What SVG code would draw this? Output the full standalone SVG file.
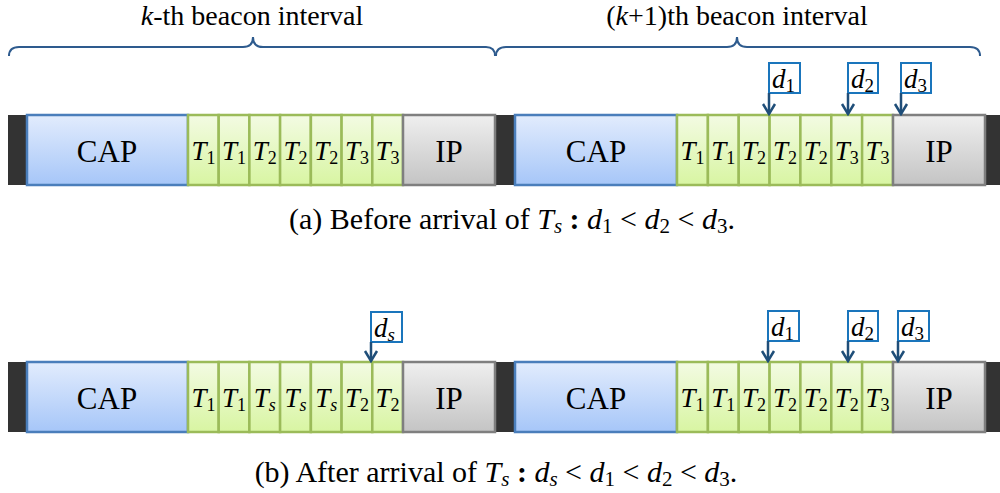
<svg xmlns="http://www.w3.org/2000/svg" width="1000" height="493" viewBox="0 0 1000 493" font-family="Liberation Serif">
  <defs>
    <linearGradient id="gBlue" x1="0" y1="0" x2="0" y2="1">
      <stop offset="0" stop-color="#e2ecfd"/>
      <stop offset="1" stop-color="#a6c6f8"/>
    </linearGradient>
    <linearGradient id="gGreen" x1="0" y1="0" x2="0" y2="1">
      <stop offset="0" stop-color="#f3fbe3"/>
      <stop offset="1" stop-color="#d8f5a2"/>
    </linearGradient>
    <linearGradient id="gGray" x1="0" y1="0" x2="0" y2="1">
      <stop offset="0" stop-color="#efefef"/>
      <stop offset="1" stop-color="#c4c4c4"/>
    </linearGradient>
    <marker id="head" viewBox="-12 -8 14 16" markerWidth="14" markerHeight="16" refX="0" refY="0" markerUnits="userSpaceOnUse" orient="auto">
      <path d="M-10,-6 L0,0 L-10,6" fill="none" stroke="#1f4e79" stroke-width="2.5"/>
    </marker>
  </defs>

  <!-- interval braces and titles -->
  <g id="brace-k">
    <path fill="none" stroke="#2e5b8e" stroke-width="2" d="M9,56 Q9,47 19,47 L243,47 Q253,47 253,37 Q253,47 263,47 L486,47 Q495,47 495,56"/>
    <text x="252" y="25" font-family="Liberation Serif" font-size="28" text-anchor="middle"><tspan font-style="italic">k</tspan>-th beacon interval</text>
  </g>
  <g id="brace-k1">
    <path fill="none" stroke="#2e5b8e" stroke-width="2" d="M496,56 Q496,47 506,47 L727,47 Q737,47 737,37 Q737,47 747,47 L970,47 Q980,47 980,56"/>
    <text x="737" y="25" font-family="Liberation Serif" font-size="28" text-anchor="middle">(<tspan font-style="italic">k</tspan>+1)th beacon interval</text>
  </g>

  <!-- (a) superframes before arrival -->
  <g id="row-a" font-family="Liberation Serif">
    <rect fill="#333333" x="8" y="115" width="992" height="70"/>
    <g id="a-cap1"><rect fill="url(#gBlue)" stroke="#4a7ebb" stroke-width="2.5" x="27" y="115" width="161" height="70"/><text font-family="Liberation Serif" font-size="31" text-anchor="middle" x="107" y="162">CAP</text></g>
    <g id="a-slots" fill="url(#gGreen)" stroke="#9bbb59" stroke-width="2.5">
      <g id="a-s1"><rect x="188" y="115" width="30.7" height="70"/><text fill="#000" stroke="none" font-family="Liberation Serif" font-size="27" text-anchor="middle" x="203.4" y="160"><tspan font-style="italic">T</tspan><tspan font-size="18" dy="4">1</tspan></text></g>
      <g id="a-s2"><rect x="218.7" y="115" width="30.7" height="70"/><text fill="#000" stroke="none" font-family="Liberation Serif" font-size="27" text-anchor="middle" x="234.1" y="160"><tspan font-style="italic">T</tspan><tspan font-size="18" dy="4">1</tspan></text></g>
      <g id="a-s3"><rect x="249.4" y="115" width="30.7" height="70"/><text fill="#000" stroke="none" font-family="Liberation Serif" font-size="27" text-anchor="middle" x="264.8" y="160"><tspan font-style="italic">T</tspan><tspan font-size="18" dy="4">2</tspan></text></g>
      <g id="a-s4"><rect x="280.1" y="115" width="30.7" height="70"/><text fill="#000" stroke="none" font-family="Liberation Serif" font-size="27" text-anchor="middle" x="295.5" y="160"><tspan font-style="italic">T</tspan><tspan font-size="18" dy="4">2</tspan></text></g>
      <g id="a-s5"><rect x="310.9" y="115" width="30.7" height="70"/><text fill="#000" stroke="none" font-family="Liberation Serif" font-size="27" text-anchor="middle" x="326.2" y="160"><tspan font-style="italic">T</tspan><tspan font-size="18" dy="4">2</tspan></text></g>
      <g id="a-s6"><rect x="341.6" y="115" width="30.7" height="70"/><text fill="#000" stroke="none" font-family="Liberation Serif" font-size="27" text-anchor="middle" x="356.9" y="160"><tspan font-style="italic">T</tspan><tspan font-size="18" dy="4">3</tspan></text></g>
      <g id="a-s7"><rect x="372.3" y="115" width="30.7" height="70"/><text fill="#000" stroke="none" font-family="Liberation Serif" font-size="27" text-anchor="middle" x="387.6" y="160"><tspan font-style="italic">T</tspan><tspan font-size="18" dy="4">3</tspan></text></g>
    </g>
    <g id="a-ip1"><rect fill="url(#gGray)" stroke="#7f7f7f" stroke-width="2.5" x="403" y="115" width="92" height="70"/><text font-family="Liberation Serif" font-size="31" text-anchor="middle" x="449" y="162">IP</text></g>

    <g id="a-cap2"><rect fill="url(#gBlue)" stroke="#4a7ebb" stroke-width="2.5" x="515" y="115" width="162" height="70"/><text font-family="Liberation Serif" font-size="31" text-anchor="middle" x="596" y="162">CAP</text></g>
    <g id="a-slots2" fill="url(#gGreen)" stroke="#9bbb59" stroke-width="2.5">
      <g id="a-s8"><rect x="677" y="115" width="30.9" height="70"/><text fill="#000" stroke="none" font-family="Liberation Serif" font-size="27" text-anchor="middle" x="692.4" y="160"><tspan font-style="italic">T</tspan><tspan font-size="18" dy="4">1</tspan></text></g>
      <g id="a-s9"><rect x="707.9" y="115" width="30.9" height="70"/><text fill="#000" stroke="none" font-family="Liberation Serif" font-size="27" text-anchor="middle" x="723.3" y="160"><tspan font-style="italic">T</tspan><tspan font-size="18" dy="4">1</tspan></text></g>
      <g id="a-s10"><rect x="738.7" y="115" width="30.9" height="70"/><text fill="#000" stroke="none" font-family="Liberation Serif" font-size="27" text-anchor="middle" x="754.1" y="160"><tspan font-style="italic">T</tspan><tspan font-size="18" dy="4">2</tspan></text></g>
      <g id="a-s11"><rect x="769.6" y="115" width="30.9" height="70"/><text fill="#000" stroke="none" font-family="Liberation Serif" font-size="27" text-anchor="middle" x="785" y="160"><tspan font-style="italic">T</tspan><tspan font-size="18" dy="4">2</tspan></text></g>
      <g id="a-s12"><rect x="800.4" y="115" width="30.9" height="70"/><text fill="#000" stroke="none" font-family="Liberation Serif" font-size="27" text-anchor="middle" x="815.8" y="160"><tspan font-style="italic">T</tspan><tspan font-size="18" dy="4">2</tspan></text></g>
      <g id="a-s13"><rect x="831.3" y="115" width="30.9" height="70"/><text fill="#000" stroke="none" font-family="Liberation Serif" font-size="27" text-anchor="middle" x="846.7" y="160"><tspan font-style="italic">T</tspan><tspan font-size="18" dy="4">3</tspan></text></g>
      <g id="a-s14"><rect x="862.1" y="115" width="30.9" height="70"/><text fill="#000" stroke="none" font-family="Liberation Serif" font-size="27" text-anchor="middle" x="877.5" y="160"><tspan font-style="italic">T</tspan><tspan font-size="18" dy="4">3</tspan></text></g>
    </g>
    <g id="a-ip2"><rect fill="url(#gGray)" stroke="#7f7f7f" stroke-width="2.5" x="893" y="115" width="92" height="70"/><text font-family="Liberation Serif" font-size="31" text-anchor="middle" x="939" y="162">IP</text></g>

    <g id="a-d1"><rect fill="#ffffff" stroke="#1a75bc" stroke-width="2" x="769" y="63" width="31" height="30"/><text font-family="Liberation Serif" font-size="27" x="772" y="88"><tspan font-style="italic">d</tspan><tspan font-size="19" dy="4">1</tspan></text></g>
    <g id="a-d2"><rect fill="#ffffff" stroke="#1a75bc" stroke-width="2" x="848" y="63" width="30" height="30"/><text font-family="Liberation Serif" font-size="27" x="851" y="88"><tspan font-style="italic">d</tspan><tspan font-size="19" dy="4">2</tspan></text></g>
    <g id="a-d3"><rect fill="#ffffff" stroke="#1a75bc" stroke-width="2" x="901" y="63" width="30" height="30"/><text font-family="Liberation Serif" font-size="27" x="904" y="88"><tspan font-style="italic">d</tspan><tspan font-size="19" dy="4">3</tspan></text></g>

    <text id="caption-a" font-family="Liberation Serif" font-size="30" text-anchor="middle" x="512" y="229">(a) Before arrival of <tspan font-style="italic">T</tspan><tspan font-size="21" dy="4" font-style="italic">s</tspan><tspan dy="-4" font-weight="bold"> : </tspan><tspan font-style="italic">d</tspan><tspan font-size="21" dy="4">1</tspan><tspan dy="-4"> &lt; </tspan><tspan font-style="italic">d</tspan><tspan font-size="21" dy="4">2</tspan><tspan dy="-4"> &lt; </tspan><tspan font-style="italic">d</tspan><tspan font-size="21" dy="4">3</tspan><tspan dy="-4">.</tspan></text>
  </g>

  <!-- (b) superframes after arrival -->
  <g id="row-b" font-family="Liberation Serif">
    <rect fill="#333333" x="8" y="362" width="992" height="70"/>
    <g id="b-cap1"><rect fill="url(#gBlue)" stroke="#4a7ebb" stroke-width="2.5" x="27" y="362" width="161" height="70"/><text font-family="Liberation Serif" font-size="31" text-anchor="middle" x="107" y="409">CAP</text></g>
    <g id="b-slots" fill="url(#gGreen)" stroke="#9bbb59" stroke-width="2.5">
      <g id="b-s1"><rect x="188" y="362" width="30.7" height="70"/><text fill="#000" stroke="none" font-family="Liberation Serif" font-size="27" text-anchor="middle" x="203.4" y="407"><tspan font-style="italic">T</tspan><tspan font-size="18" dy="4">1</tspan></text></g>
      <g id="b-s2"><rect x="218.7" y="362" width="30.7" height="70"/><text fill="#000" stroke="none" font-family="Liberation Serif" font-size="27" text-anchor="middle" x="234.1" y="407"><tspan font-style="italic">T</tspan><tspan font-size="18" dy="4">1</tspan></text></g>
      <g id="b-s3"><rect x="249.4" y="362" width="30.7" height="70"/><text fill="#000" stroke="none" font-family="Liberation Serif" font-size="27" text-anchor="middle" x="264.8" y="407"><tspan font-style="italic">T</tspan><tspan font-size="18" dy="4" font-style="italic">s</tspan></text></g>
      <g id="b-s4"><rect x="280.1" y="362" width="30.7" height="70"/><text fill="#000" stroke="none" font-family="Liberation Serif" font-size="27" text-anchor="middle" x="295.5" y="407"><tspan font-style="italic">T</tspan><tspan font-size="18" dy="4" font-style="italic">s</tspan></text></g>
      <g id="b-s5"><rect x="310.9" y="362" width="30.7" height="70"/><text fill="#000" stroke="none" font-family="Liberation Serif" font-size="27" text-anchor="middle" x="326.2" y="407"><tspan font-style="italic">T</tspan><tspan font-size="18" dy="4" font-style="italic">s</tspan></text></g>
      <g id="b-s6"><rect x="341.6" y="362" width="30.7" height="70"/><text fill="#000" stroke="none" font-family="Liberation Serif" font-size="27" text-anchor="middle" x="356.9" y="407"><tspan font-style="italic">T</tspan><tspan font-size="18" dy="4">2</tspan></text></g>
      <g id="b-s7"><rect x="372.3" y="362" width="30.7" height="70"/><text fill="#000" stroke="none" font-family="Liberation Serif" font-size="27" text-anchor="middle" x="387.6" y="407"><tspan font-style="italic">T</tspan><tspan font-size="18" dy="4">2</tspan></text></g>
    </g>
    <g id="b-ip1"><rect fill="url(#gGray)" stroke="#7f7f7f" stroke-width="2.5" x="403" y="362" width="92" height="70"/><text font-family="Liberation Serif" font-size="31" text-anchor="middle" x="449" y="409">IP</text></g>

    <g id="b-cap2"><rect fill="url(#gBlue)" stroke="#4a7ebb" stroke-width="2.5" x="515" y="362" width="162" height="70"/><text font-family="Liberation Serif" font-size="31" text-anchor="middle" x="596" y="409">CAP</text></g>
    <g id="b-slots2" fill="url(#gGreen)" stroke="#9bbb59" stroke-width="2.5">
      <g id="b-s8"><rect x="677" y="362" width="30.9" height="70"/><text fill="#000" stroke="none" font-family="Liberation Serif" font-size="27" text-anchor="middle" x="692.4" y="407"><tspan font-style="italic">T</tspan><tspan font-size="18" dy="4">1</tspan></text></g>
      <g id="b-s9"><rect x="707.9" y="362" width="30.9" height="70"/><text fill="#000" stroke="none" font-family="Liberation Serif" font-size="27" text-anchor="middle" x="723.3" y="407"><tspan font-style="italic">T</tspan><tspan font-size="18" dy="4">1</tspan></text></g>
      <g id="b-s10"><rect x="738.7" y="362" width="30.9" height="70"/><text fill="#000" stroke="none" font-family="Liberation Serif" font-size="27" text-anchor="middle" x="754.1" y="407"><tspan font-style="italic">T</tspan><tspan font-size="18" dy="4">2</tspan></text></g>
      <g id="b-s11"><rect x="769.6" y="362" width="30.9" height="70"/><text fill="#000" stroke="none" font-family="Liberation Serif" font-size="27" text-anchor="middle" x="785" y="407"><tspan font-style="italic">T</tspan><tspan font-size="18" dy="4">2</tspan></text></g>
      <g id="b-s12"><rect x="800.4" y="362" width="30.9" height="70"/><text fill="#000" stroke="none" font-family="Liberation Serif" font-size="27" text-anchor="middle" x="815.8" y="407"><tspan font-style="italic">T</tspan><tspan font-size="18" dy="4">2</tspan></text></g>
      <g id="b-s13"><rect x="831.3" y="362" width="30.9" height="70"/><text fill="#000" stroke="none" font-family="Liberation Serif" font-size="27" text-anchor="middle" x="846.7" y="407"><tspan font-style="italic">T</tspan><tspan font-size="18" dy="4">2</tspan></text></g>
      <g id="b-s14"><rect x="862.1" y="362" width="30.9" height="70"/><text fill="#000" stroke="none" font-family="Liberation Serif" font-size="27" text-anchor="middle" x="877.5" y="407"><tspan font-style="italic">T</tspan><tspan font-size="18" dy="4">3</tspan></text></g>
    </g>
    <g id="b-ip2"><rect fill="url(#gGray)" stroke="#7f7f7f" stroke-width="2.5" x="893" y="362" width="92" height="70"/><text font-family="Liberation Serif" font-size="31" text-anchor="middle" x="939" y="409">IP</text></g>

    <g id="b-ds"><rect fill="#ffffff" stroke="#1a75bc" stroke-width="2" x="371" y="312" width="31" height="30"/><text font-family="Liberation Serif" font-size="27" x="374" y="337"><tspan font-style="italic">d</tspan><tspan font-size="19" dy="4" font-style="italic">s</tspan></text></g>
    <g id="b-d1"><rect fill="#ffffff" stroke="#1a75bc" stroke-width="2" x="768" y="311" width="31" height="30"/><text font-family="Liberation Serif" font-size="27" x="771" y="336"><tspan font-style="italic">d</tspan><tspan font-size="19" dy="4">1</tspan></text></g>
    <g id="b-d2"><rect fill="#ffffff" stroke="#1a75bc" stroke-width="2" x="848" y="311" width="30" height="30"/><text font-family="Liberation Serif" font-size="27" x="851" y="336"><tspan font-style="italic">d</tspan><tspan font-size="19" dy="4">2</tspan></text></g>
    <g id="b-d3"><rect fill="#ffffff" stroke="#1a75bc" stroke-width="2" x="898" y="311" width="31" height="30"/><text font-family="Liberation Serif" font-size="27" x="901" y="336"><tspan font-style="italic">d</tspan><tspan font-size="19" dy="4">3</tspan></text></g>

    <text id="caption-b" font-family="Liberation Serif" font-size="30" text-anchor="middle" x="496" y="482">(b) After arrival of <tspan font-style="italic">T</tspan><tspan font-size="21" dy="4" font-style="italic">s</tspan><tspan dy="-4" font-weight="bold"> : </tspan><tspan font-style="italic">d</tspan><tspan font-size="21" dy="4" font-style="italic">s</tspan><tspan dy="-4"> &lt; </tspan><tspan font-style="italic">d</tspan><tspan font-size="21" dy="4">1</tspan><tspan dy="-4"> &lt; </tspan><tspan font-style="italic">d</tspan><tspan font-size="21" dy="4">2</tspan><tspan dy="-4"> &lt; </tspan><tspan font-style="italic">d</tspan><tspan font-size="21" dy="4">3</tspan><tspan dy="-4">.</tspan></text>
  </g>

  <!-- deadline pointers -->
  <g id="connectors" stroke="#1f4e79" stroke-width="2.5" fill="none" marker-end="url(#head)">
    <line x1="769" y1="93" x2="769" y2="114"/>
    <line x1="848" y1="93" x2="848" y2="114"/>
    <line x1="901" y1="93" x2="901" y2="114"/>
    <line x1="371" y1="342" x2="371" y2="361"/>
    <line x1="768" y1="341" x2="768" y2="361"/>
    <line x1="848" y1="341" x2="848" y2="361"/>
    <line x1="898" y1="341" x2="898" y2="361"/>
  </g>
</svg>
